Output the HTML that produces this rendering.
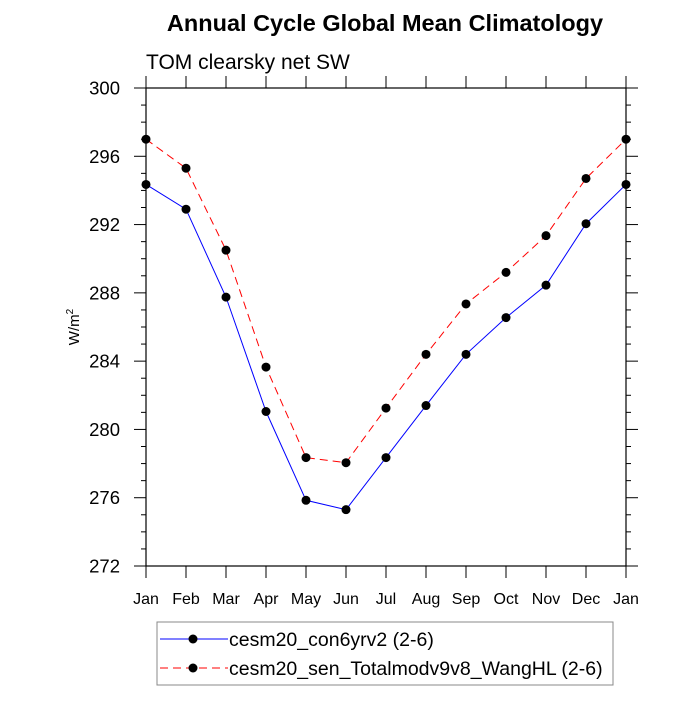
<!DOCTYPE html>
<html><head><meta charset="utf-8"><style>
body{margin:0;background:#fff;}
svg text{font-family:"Liberation Sans",Arial,sans-serif;}
</style></head><body>
<svg id="chart" width="700" height="700">
<text x="385" y="31" text-anchor="middle" font-size="23.5" font-weight="bold">Annual Cycle Global Mean Climatology</text>
<text x="146" y="69" font-size="21">TOM clearsky net SW</text>
<text transform="translate(79,327) rotate(-90)" text-anchor="middle" font-size="15">W/m<tspan dy="-6" font-size="10">2</tspan></text>
<g id="axes"></g>
<g id="series"></g>
<g>
<rect x="157" y="622" width="456" height="63" fill="#fff" stroke="#888" stroke-width="1"/>
<g>
<line x1="160" y1="639" x2="228" y2="639" stroke="#0000ff" stroke-width="1"/>
<circle cx="193" cy="639" r="4.5" fill="#000"/>
<text x="229" y="646" font-size="19.5">cesm20_con6yrv2 (2-6)</text></g>
<g>
<line x1="160" y1="668" x2="228" y2="668" stroke="#ff0000" stroke-width="1" stroke-dasharray="8,5"/>
<circle cx="193" cy="668" r="4.5" fill="#000"/>
<text x="229" y="675" font-size="19.5">cesm20_sen_Totalmodv9v8_WangHL (2-6)</text></g>
</g>
</svg>
<script>
const months=["Jan","Feb","Mar","Apr","May","Jun","Jul","Aug","Sep","Oct","Nov","Dec","Jan"];
const controlValues=[294.35,292.9,287.75,281.05,275.85,275.3,278.35,281.4,284.4,286.55,288.45,292.05,294.35];
const sensValues=[297.0,295.3,290.5,283.65,278.35,278.05,281.25,284.4,287.35,289.2,291.35,294.7,297.0];
const yTicks=[272,276,280,284,288,292,296,300];
const X0=146,X1=626,Y0=88,Y1=566,YMIN=272,YMAX=300;
const ns="http://www.w3.org/2000/svg";
function xs(i){return X0+(X1-X0)*i/(months.length-1);}
function ys(v){return Y1-(v-YMIN)/(YMAX-YMIN)*(Y1-Y0);}
function mk(t,a,p){const e=document.createElementNS(ns,t);for(const k in a)e.setAttribute(k,a[k]);p.appendChild(e);return e;}
const ax=document.getElementById('axes');
const frame=mk('rect',{x:X0,y:Y0,width:X1-X0,height:Y1-Y0,fill:'none',stroke:'#000','stroke-width':1.2},ax);


for(let v=YMIN;v<=YMAX;v++){
  const major=yTicks.includes(v);const L=major?12:5;const y=ys(v);
  mk('line',{x1:X0-L,y1:y,x2:X0,y2:y,stroke:'#000'},ax);
  mk('line',{x1:X1,y1:y,x2:X1+L,y2:y,stroke:'#000'},ax);
}
yTicks.forEach(v=>{
  const t=mk('text',{x:120,y:ys(v)+6.5,'text-anchor':'end','font-size':18.5},ax);t.textContent=v;
  
  
});
months.forEach((m,i)=>{
  const x=xs(i);
  mk('line',{x1:x,y1:Y1,x2:x,y2:Y1+12,stroke:'#000'},ax);
  mk('line',{x1:x,y1:Y0-12,x2:x,y2:Y0,stroke:'#000'},ax);
  const t=mk('text',{x:x,y:604,'text-anchor':'middle','font-size':16},ax);t.textContent=m;
  
  
});
const sg=document.getElementById('series');
function draw(vals,color,dash,name){
  const g=mk('g',{},sg);
  
  
  const pts=vals.map((v,i)=>xs(i)+','+ys(v)).join(' ');
  const a={points:pts,fill:'none',stroke:color,'stroke-width':1};if(dash)a['stroke-dasharray']=dash;
  mk('polyline',a,g);
  vals.forEach((v,i)=>{const c=mk('circle',{cx:xs(i),cy:ys(v),r:4.5,fill:'#000'},g);
    
    });
}
draw(sensValues,'#ff0000','8,5','sensitivity-series');
draw(controlValues,'#0000ff',null,'control-series');
</script>
</body></html>
